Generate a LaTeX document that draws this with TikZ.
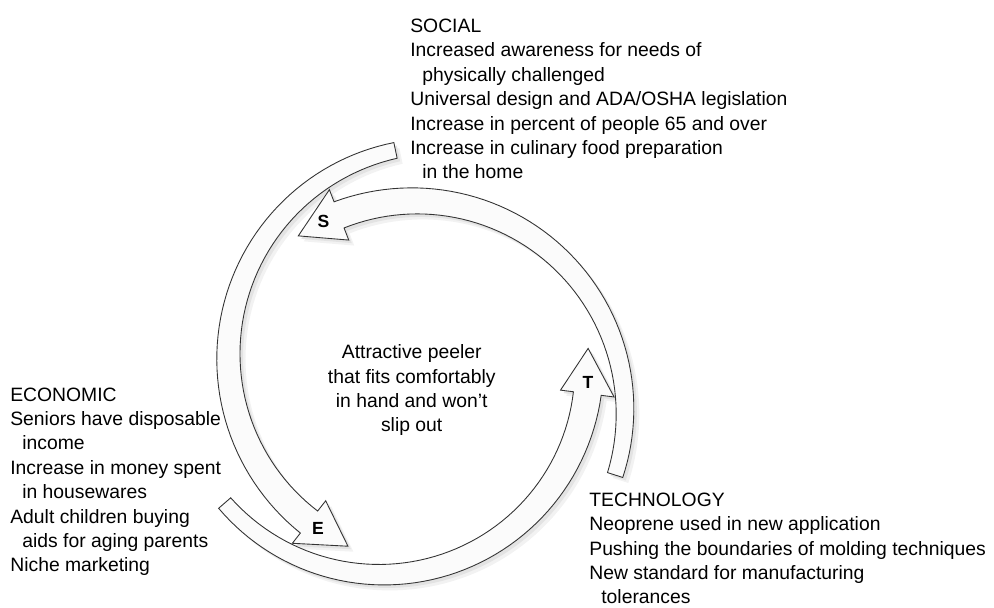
\documentclass[tikz,border=0pt]{standalone}
\usepackage{fontspec}
\setmainfont{Liberation Sans}
\usetikzlibrary{positioning}
\tikzset{
  band/.style={fill=gray!3,draw=black!80,line width=0.5pt,line join=miter},
  bandshade/.style={fill=gray!22,draw=none},
  bandhalo/.style={fill=gray!10,draw=none},
  txt/.style={font=\fontsize{11}{13.9}\selectfont,align=left,inner sep=0pt,anchor=base west},
  ctxt/.style={font=\fontsize{11}{13.9}\selectfont,align=center,inner sep=0pt,anchor=base},
  lbl/.style={font=\fontsize{10}{12}\selectfont\bfseries,inner sep=0pt}
}
% tapered arc arrow: style, cx, cy, radius, tail angle, head angle
\newcommand{\cyclearrow}[6]{%
  \pgfmathsetmacro\tipang{#6+12.5}
  \path[#1]
    plot[domain=#5:#6,samples=60,variable=\t]
      ({#2+(#4+0.16+0.12*(\t-(#5))/(#6-(#5)))*cos(\t)},{#3+(#4+0.16+0.12*(\t-(#5))/(#6-(#5)))*sin(\t)})
    -- ({#2+(#4+0.54)*cos(#6)},{#3+(#4+0.54)*sin(#6)})
    -- ({#2+#4*cos(\tipang)},{#3+#4*sin(\tipang)})
    -- ({#2+(#4-0.54)*cos(#6)},{#3+(#4-0.54)*sin(#6)})
    -- plot[domain=#6:#5,samples=60,variable=\t]
      ({#2+(#4-0.16-0.12*(\t-(#5))/(#6-(#5)))*cos(\t)},{#3+(#4-0.16-0.12*(\t-(#5))/(#6-(#5)))*sin(\t)})
    -- cycle;
}
\begin{document}
\begin{tikzpicture}
  \useasboundingbox (0,0) rectangle (19.88,12.16);

  % Shadows of the three arrows
  \begin{scope}[shift={(0.11,-0.11)}]
    \cyclearrow{bandhalo}{8.29}{3.932}{4.21}{-17.6}{111}
    \cyclearrow{bandhalo}{8.778}{5.032}{4.21}{101.9}{231.9}
    \cyclearrow{bandhalo}{7.63}{4.816}{4.15}{220.9}{352.7}
  \end{scope}
  \begin{scope}[shift={(0.06,-0.06)}]
    \cyclearrow{bandshade}{8.29}{3.932}{4.21}{-17.6}{111}
    \cyclearrow{bandshade}{8.778}{5.032}{4.21}{101.9}{231.9}
    \cyclearrow{bandshade}{7.63}{4.816}{4.15}{220.9}{352.7}
  \end{scope}

  % Social, Economic and Technology arrows
  \cyclearrow{band}{8.29}{3.932}{4.21}{-17.6}{111}
  \cyclearrow{band}{8.778}{5.032}{4.21}{101.9}{231.9}
  \cyclearrow{band}{7.63}{4.816}{4.15}{220.9}{352.7}

  \node[lbl] (lblS) at (6.47,7.73) {S};
  \node[lbl] (lblE) at (6.36,1.6) {E};
  \node[lbl] (lblT) at (11.76,4.52) {T};

  % Centre text (anchored on its last line)
  \node[ctxt] (peeler) at (8.234,3.52) {Attractive peeler\\that fits comfortably\\in hand and won't\\slip out};

  % Social
  \node[txt] (social) at (8.2,8.58) {SOCIAL\\
    Increased awareness for needs of\\
    \hspace*{0.24cm}physically challenged\\
    Universal design and ADA/OSHA legislation\\
    Increase in percent of people 65 and over\\
    Increase in culinary food preparation\\
    \hspace*{0.24cm}in the home};

  % Economic
  \node[txt] (economic) at (0.2,0.72) {ECONOMIC\\
    Seniors have disposable\\
    \hspace*{0.24cm}income\\
    Increase in money spent\\
    \hspace*{0.24cm}in housewares\\
    Adult children buying\\
    \hspace*{0.24cm}aids for aging parents\\
    Niche marketing};

  % Technology
  \node[txt] (technology) at (11.78,0.08) {TECHNOLOGY\\
    Neoprene used in new application\\
    Pushing the boundaries of molding techniques\\
    New standard for manufacturing\\
    \hspace*{0.24cm}tolerances};
\end{tikzpicture}
\end{document}
